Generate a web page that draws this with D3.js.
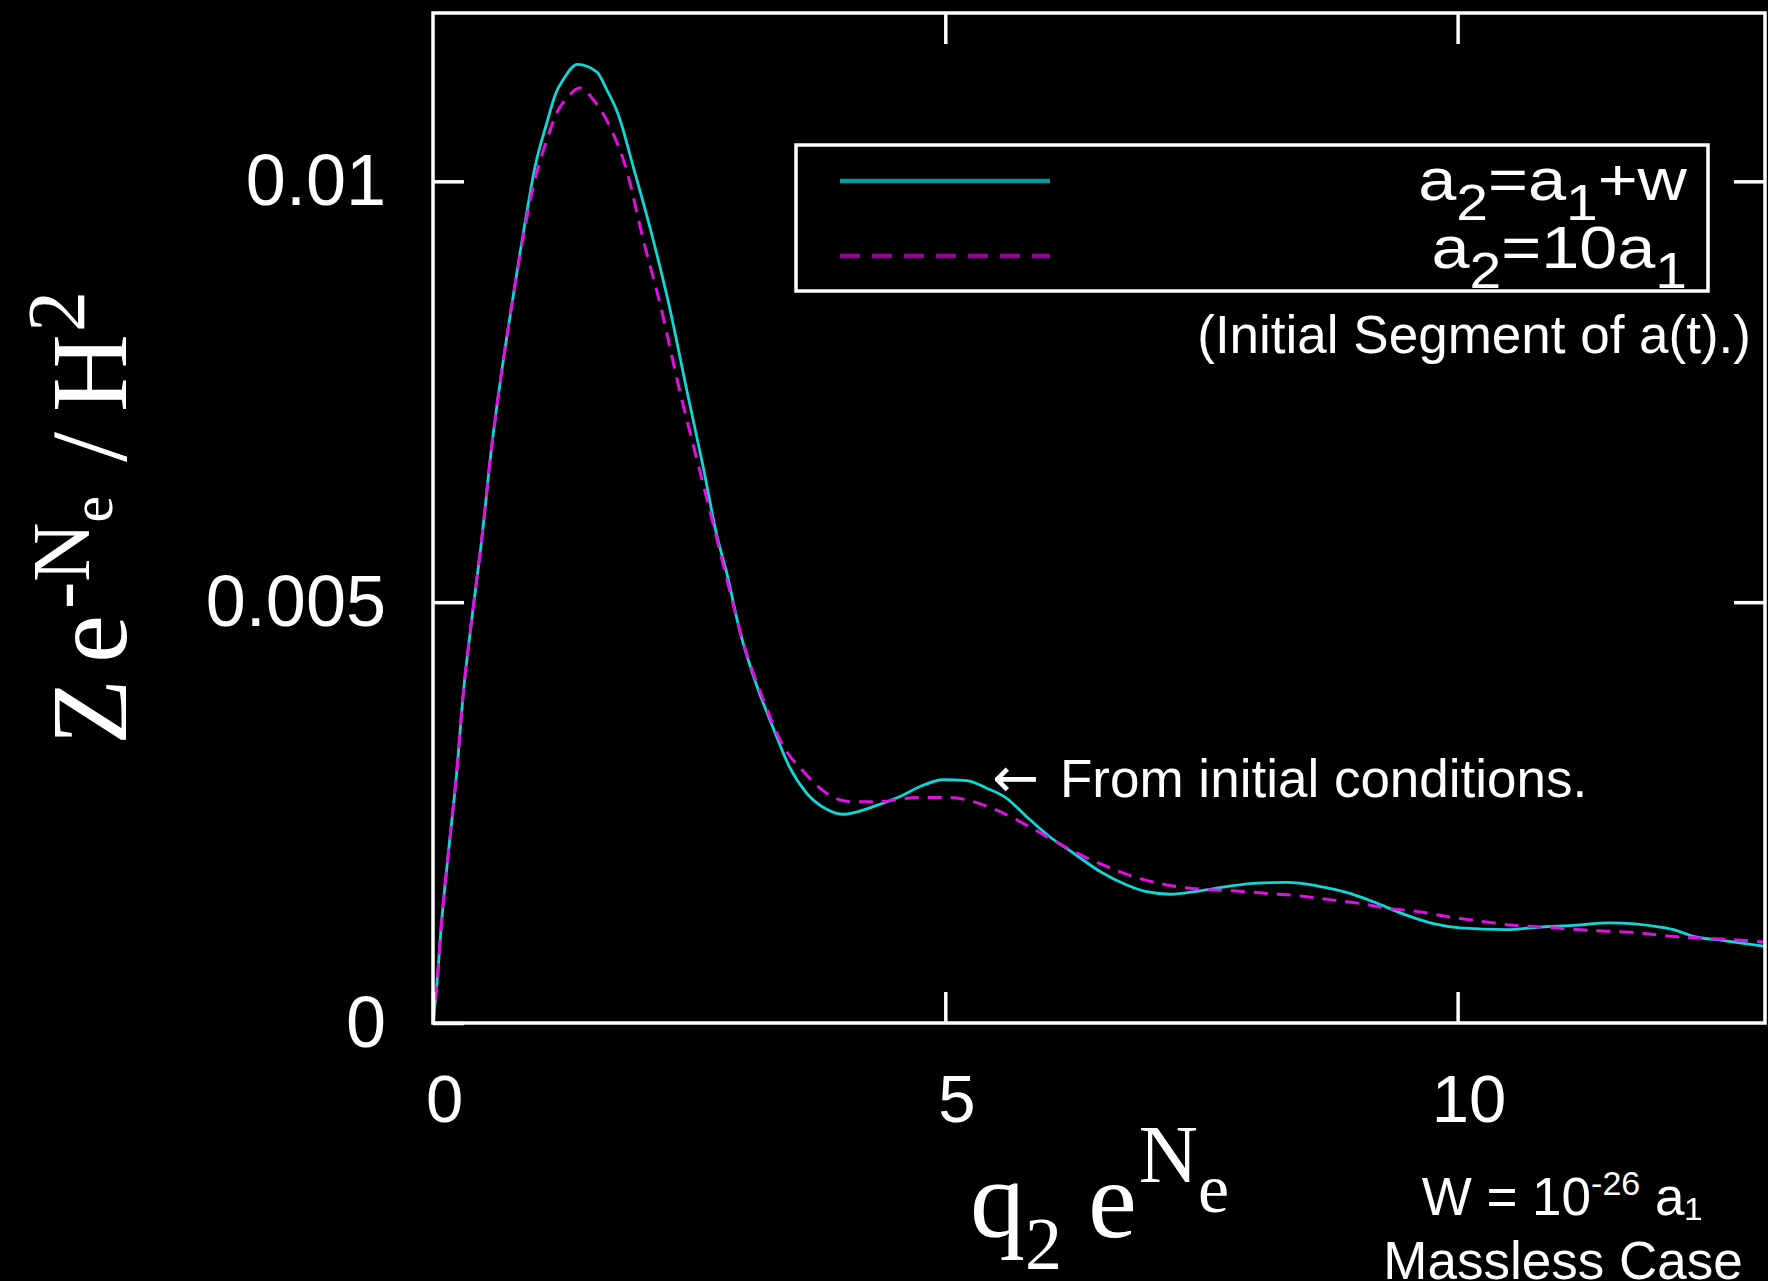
<!DOCTYPE html>
<html><head><meta charset="utf-8">
<script src="https://cdn.jsdelivr.net/npm/d3@7"></script>
<style>html,body{margin:0;padding:0;background:#000;} svg{display:block}</style>
</head><body><svg id="chart" width="1768" height="1281"></svg>
<script>
// ---- data ----
const xTickValues = [0, 5, 10];
const xTickLabels = ["0", "5", "10"];
const yTickValues = [0, 0.005, 0.01];
const yTickLabels = ["0", "0.005", "0.01"];

// series 1: a2 = a1 + w (solid cyan)
const cyanQ = [0,0.036,0.085,0.15,0.231,0.296,0.378,0.475,0.573,0.654,0.751,0.849,0.914,0.995,1.11,1.2,1.272,1.408,1.598,1.695,1.809,1.955,2.15,2.3,2.48,2.638,2.769,2.866,2.996,3.159,3.322,3.484,3.647,3.842,4.005,4.297,4.558,4.753,4.98,5.209,5.404,5.599,5.794,6.022,6.249,6.51,6.771,6.966,7.193,7.486,7.746,8.007,8.332,8.625,8.95,9.177,9.503,9.763,10.024,10.479,10.804,11.129,11.487,11.976,12.106,12.301,12.594,13.0];
const cyanZ = [0,0.00043,0.00122,0.00202,0.00297,0.00392,0.00479,0.00574,0.00685,0.0076,0.00839,0.00915,0.00962,0.01017,0.01069,0.01105,0.01121,0.01139,0.0113,0.01109,0.01079,0.01017,0.0093,0.00855,0.0075,0.0066,0.0058,0.00535,0.00465,0.00401,0.0035,0.00303,0.00273,0.00254,0.00248,0.00257,0.00269,0.00281,0.00289,0.00288,0.00279,0.00267,0.00245,0.00221,0.00202,0.0018,0.00164,0.00156,0.00153,0.00157,0.00162,0.00166,0.00167,0.00163,0.00154,0.00144,0.00128,0.00118,0.00113,0.00111,0.00114,0.00116,0.00119,0.00114,0.00111,0.00103,0.00098,0.00091];

// series 2: a2 = 10 a1 (dashed magenta)
const magQ = [0,0.036,0.085,0.15,0.231,0.296,0.378,0.475,0.573,0.654,0.751,0.849,0.979,1.11,1.207,1.321,1.43,1.565,1.727,1.89,2.053,2.215,2.41,2.606,2.736,2.866,3.029,3.224,3.419,3.614,3.842,4.07,4.363,4.623,4.818,5.046,5.273,5.534,5.794,6.054,6.315,6.575,6.835,7.161,7.486,7.811,8.137,8.462,8.787,9.047,9.34,9.633,9.926,10.219,10.544,10.837,11.162,11.455,11.78,12.073,12.366,12.691,13.0];
const magZ = [0,0.00043,0.00122,0.00202,0.00297,0.00392,0.00479,0.00574,0.00685,0.0076,0.00839,0.00912,0.00994,0.01049,0.01081,0.01101,0.01111,0.01097,0.01065,0.01013,0.0093,0.00855,0.0075,0.00655,0.00592,0.00528,0.00452,0.00384,0.00329,0.00299,0.00273,0.00263,0.00263,0.00267,0.00268,0.00268,0.00263,0.00251,0.00235,0.00217,0.002,0.00186,0.00174,0.00164,0.00159,0.00157,0.00154,0.00151,0.00146,0.00142,0.00136,0.00132,0.00126,0.00121,0.00116,0.00114,0.00111,0.00109,0.00107,0.00103,0.00101,0.00099,0.00096];

// legend labels as [text, role] parts
const legendLabels = [
  [["a",""],["2","sub"],["=a",""],["1","sub"],["+w",""]],
  [["a",""],["2","sub"],["=10a",""],["1","sub"]]
];

// ---- drawing ----
const W = 1768, H = 1281;
const M = {l: 433, r: 1765, t: 13, b: 1023};
const svg = d3.select("#chart");
svg.append("rect").attr("width", W).attr("height", H).attr("fill", "#000");

const x = d3.scaleLinear().domain([0, 13]).range([M.l, M.r]);
const y = d3.scaleLinear().domain([0, 0.012]).range([M.b, M.t]);

const sans = "'Liberation Sans', Arial, Helvetica, sans-serif";
const serif = "'Liberation Serif', 'Times New Roman', serif";

svg.append("clipPath").attr("id", "clip").append("rect")
  .attr("x", M.l).attr("y", M.t).attr("width", M.r - M.l).attr("height", M.b - M.t);

const line = d3.line().x(d => x(d[0])).y(d => y(d[1])).curve(d3.curveMonotoneX);
const cyanData = cyanQ.map((q, i) => [q, cyanZ[i]]);
const magData = magQ.map((q, i) => [q, magZ[i]]);

const plot = svg.append("g").attr("clip-path", "url(#clip)");
plot.append("path").datum(cyanData).attr("d", line)
  .attr("fill", "none").attr("stroke", "#12d6d6").attr("stroke-width", 2.8).attr("stroke-linejoin", "round");
plot.append("path").datum(magData).attr("d", line)
  .attr("fill", "none").attr("stroke", "#e010e0").attr("stroke-width", 3).attr("stroke-dasharray", "14,9");

// axes
function styleAxis(g, size) {
  g.select(".domain").remove();
  g.selectAll(".tick line").attr("stroke", "#fff").attr("stroke-width", 3.5);
  g.selectAll(".tick text").attr("fill", "#fff").attr("font-family", sans).attr("font-size", size || 66);
}
const yAxis = d3.axisLeft(y).tickValues(yTickValues).tickFormat((d, i) => yTickLabels[i]).tickSize(-31).tickPadding(47);
svg.append("g").attr("transform", `translate(${M.l},0)`).call(yAxis).call(g => styleAxis(g, 72));

const xAxis = d3.axisBottom(x).tickValues(xTickValues).tickFormat((d, i) => xTickLabels[i]).tickSize(-31).tickPadding(51);
const gx = svg.append("g").attr("transform", `translate(0,${M.b})`).call(xAxis).call(g => styleAxis(g, 67));
gx.selectAll(".tick text").attr("dx", 11);

svg.append("g").attr("transform", `translate(${M.r},0)`)
  .call(d3.axisRight(y).tickValues(yTickValues.slice(1)).tickFormat("").tickSize(-31)).call(g => styleAxis(g));
svg.append("g").attr("transform", `translate(0,${M.t})`)
  .call(d3.axisTop(x).tickValues(xTickValues.slice(1)).tickFormat("").tickSize(-31)).call(g => styleAxis(g));

// border
svg.append("rect").attr("x", M.l).attr("y", M.t).attr("width", M.r - M.l).attr("height", M.b - M.t)
  .attr("fill", "none").attr("stroke", "#fff").attr("stroke-width", 3.5);

// legend
svg.append("rect").attr("x", 796).attr("y", 145).attr("width", 912).attr("height", 146)
  .attr("fill", "none").attr("stroke", "#fff").attr("stroke-width", 3.5);
const legendStyles = [
  {stroke: "#009c9c", dash: null, ly: 181, ty: 200},
  {stroke: "#9a009a", dash: "20,12", ly: 256, ty: 268}
];
legendStyles.forEach((s, i) => {
  svg.append("line").attr("x1", 840).attr("x2", 1050).attr("y1", s.ly).attr("y2", s.ly)
    .attr("stroke", s.stroke).attr("stroke-width", 4.5).attr("stroke-dasharray", s.dash);
  const t = svg.append("g").attr("transform", `translate(1687,${s.ty}) scale(1.14,1)`)
    .append("text").attr("text-anchor", "end").attr("fill", "#fff")
    .attr("font-family", sans).attr("font-size", 60);
  legendLabels[i].forEach(([txt, role], j) => {
    const prev = j > 0 ? legendLabels[i][j - 1][1] : "";
    let dy = 0;
    if (role === "sub" && prev !== "sub") dy = 20;
    if (role !== "sub" && prev === "sub") dy = -20;
    t.append("tspan").text(txt).attr("dy", dy).attr("font-size", role === "sub" ? 50 : 60);
  });
});

// annotations
svg.append("text").attr("x", 1751).attr("y", 353).attr("text-anchor", "end")
  .attr("fill", "#fff").attr("font-family", sans).attr("font-size", 53)
  .text("(Initial Segment of a(t).)");
svg.append("text").attr("x", 992).attr("y", 797).attr("fill", "#fff")
  .attr("font-family", "'DejaVu Sans', sans-serif").attr("font-size", 56).text("\u2190");
svg.append("text").attr("x", 1060).attr("y", 797).attr("fill", "#fff")
  .attr("font-family", sans).attr("font-size", 53).text("From initial conditions.");

const wt = svg.append("text").attr("x", 1562).attr("y", 1215).attr("text-anchor", "middle")
  .attr("fill", "#fff").attr("font-family", sans).attr("font-size", 53);
wt.append("tspan").text("W = 10");
wt.append("tspan").text("-26").attr("font-size", 34).attr("dy", -20);
wt.append("tspan").text(" a\u2081").attr("dy", 20);
svg.append("text").attr("x", 1563).attr("y", 1279).attr("text-anchor", "middle")
  .attr("fill", "#fff").attr("font-family", sans).attr("font-size", 53).text("Massless Case");

// x axis title: q2 e^{Ne}
const xt = svg.append("text").attr("x", 970).attr("y", 1237).attr("fill", "#fff")
  .attr("font-family", serif).attr("font-size", 110);
xt.append("tspan").text("q");
xt.append("tspan").text("2").attr("font-size", 74).attr("dy", 32);
xt.append("tspan").text("e").attr("dy", -32).attr("dx", 26);
xt.append("tspan").text("N").attr("font-size", 82).attr("dy", -55).attr("dx", 2);
xt.append("tspan").text("e").attr("font-size", 70).attr("dy", 30);

// y axis title: Z e^{-Ne} / H^2
const yt = svg.append("g").attr("transform", "translate(126,745) rotate(-90)")
  .append("text").attr("x", 0).attr("y", 0).attr("fill", "#fff")
  .attr("font-family", serif).attr("font-size", 108);
yt.append("tspan").text("Z");
yt.append("tspan").text("e").attr("dx", 16);
yt.append("tspan").text("-N").attr("font-size", 82).attr("dy", -37).attr("dx", 6);
yt.append("tspan").text("e").attr("font-size", 60).attr("dy", 23);
yt.append("tspan").text("/").attr("dy", 14).attr("dx", 34);
yt.append("tspan").text("H").attr("dx", 20);
yt.append("tspan").text("2").attr("font-size", 82).attr("dy", -42).attr("dx", 2);
</script></body></html>
